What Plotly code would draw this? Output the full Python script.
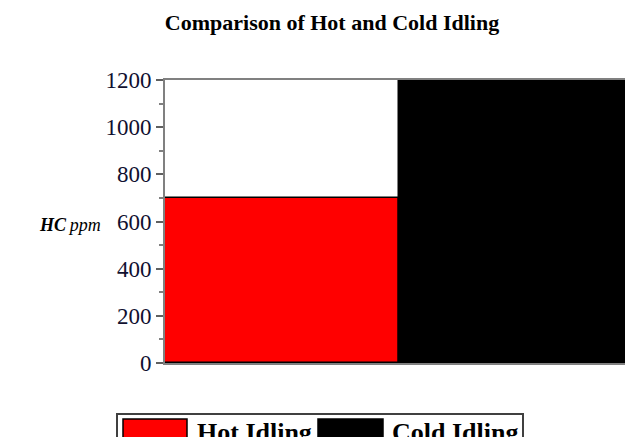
import plotly.graph_objects as go

categories = ["Hot Idling", "Cold Idling"]
hc_ppm = [700, 1200]
bar_colors = ["#ff0000", "#000000"]
y_ticks = [0, 200, 400, 600, 800, 1000, 1200]

# page body has an 8px margin; work in figure coordinates
OFF = 8
W, H = 633, 437
ML, MT = 165 - OFF, 80 - OFF
PW = 468
PH = 363 - 80
MR = W - ML - PW
MB = H - MT - PH

def px(x):
    return (x - OFF - ML) / PW

def py(y):
    return (MT + PH - (y - OFF)) / PH

fig = go.Figure()
fig.add_trace(go.Bar(
    x=categories, y=hc_ppm,
    marker=dict(color=bar_colors, line=dict(color="#000000", width=1.5)),
    showlegend=False,
))

serif = "Liberation Serif, Times New Roman, serif"

fig.update_layout(
    width=W, height=H,
    margin=dict(l=ML, r=MR, t=MT, b=MB),
    paper_bgcolor="white", plot_bgcolor="white",
    bargap=0,
    title=dict(text="<b>Comparison of Hot and Cold Idling</b>",
               x=(332 - OFF) / W, xanchor="center", xref="container",
               y=1 - (22 - OFF) / H, yanchor="middle", yref="container",
               font=dict(family=serif, size=22, color="#000000")),
    font=dict(family=serif, color="#000000"),
    showlegend=False,
)

fig.update_xaxes(
    showticklabels=False, ticks="", showgrid=False, zeroline=False,
    showline=True, linecolor="#808080", linewidth=2, mirror=True,
    range=[-0.5, 1.5],
)
fig.update_yaxes(
    range=[0, 1200], tickvals=y_ticks, ticktext=[str(v) for v in y_ticks],
    ticks="outside", ticklen=7, tickwidth=1.5, tickcolor="#606060",
    minor=dict(dtick=100, ticks="outside", ticklen=4, tickcolor="#808080", tickwidth=1.5),
    showgrid=False, zeroline=False,
    showline=True, linecolor="#808080", linewidth=2,
    tickfont=dict(family=serif, size=23, color="#101030"),
)

# y-axis label
fig.add_annotation(
    text="<b><i>HC</i></b>\u2009<i>ppm</i>", xref="paper", yref="paper",
    x=px(37), y=py(225), xanchor="left", yanchor="middle", showarrow=False,
    font=dict(family=serif, size=18, color="#000000"),
)

# manual legend
fig.add_shape(type="rect", xref="paper", yref="paper",
              x0=px(117), x1=px(523), y0=py(414), y1=py(470),
              line=dict(color="#404040", width=2), fillcolor="white", layer="above")
swatch_x = [(123, 187), (318, 383)]
label_x = [195, 390]
for i, name in enumerate(categories):
    fig.add_shape(type="rect", xref="paper", yref="paper",
                  x0=px(swatch_x[i][0]), x1=px(swatch_x[i][1]),
                  y0=py(419), y1=py(470),
                  line=dict(color="#000000", width=1.5), fillcolor=bar_colors[i], layer="above")
    fig.add_annotation(text="<b>" + name + "</b>", xref="paper", yref="paper",
                       x=px(label_x[i]), y=py(416), xanchor="left", yanchor="top",
                       showarrow=False, font=dict(family=serif, size=26, color="#000000"))

fig.write_html("out.html")
